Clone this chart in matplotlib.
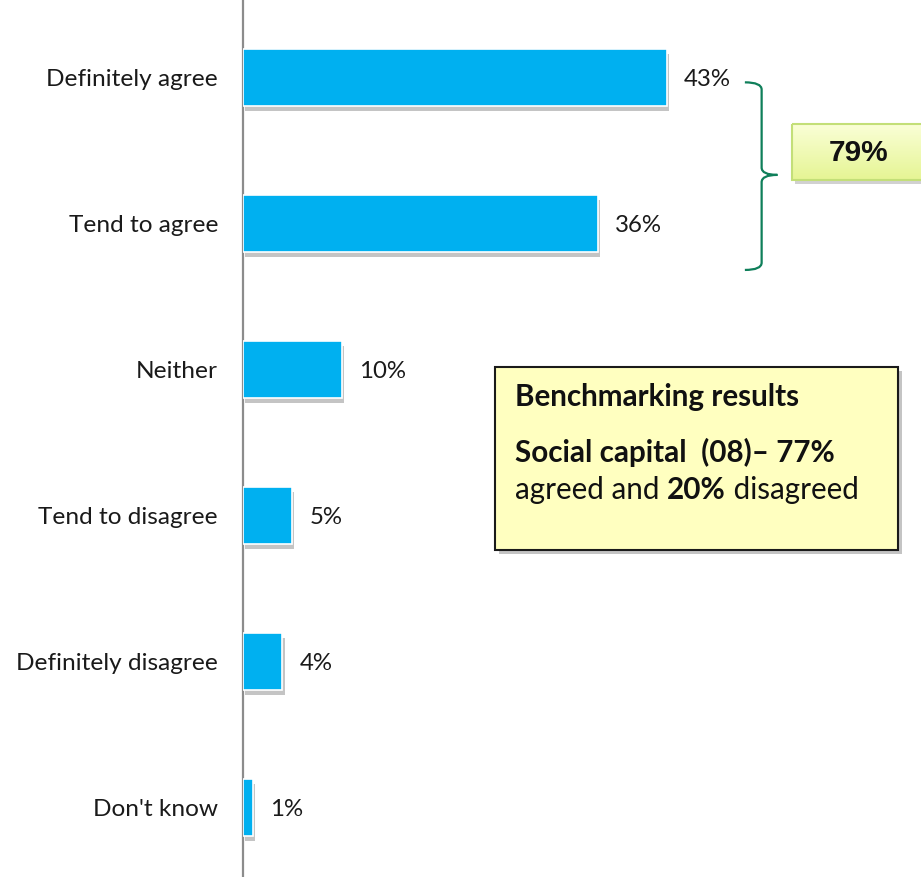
import matplotlib
matplotlib.use("Agg")
import matplotlib.pyplot as plt
import matplotlib.patheffects as pe
from matplotlib.path import Path
from matplotlib.patches import PathPatch, Rectangle
import numpy as np

categories = ["Definitely agree", "Tend to agree", "Neither", "Tend to disagree",
              "Definitely disagree", "Don't know"]
values = [43, 36, 10, 5, 4, 1]
value_labels = ["43%", "36%", "10%", "5%", "4%", "1%"]
total_agree_label = "79%"
bench_title = "Benchmarking results"
bench_line1 = "Social capital  (08)\u2013 77%"
bench_line2 = ["agreed and ", "20%", " disagreed"]

FONT = ["Lato", "DejaVu Sans"]
plt.rcParams["font.family"] = FONT

W, H = 921, 877
fig = plt.figure(figsize=(W / 100, H / 100), dpi=100)
ppu = 9.86  # pixels per percent
ax = fig.add_axes([243 / W, 0, 678 / W, 1])
ax.set_xlim(0, 678 / ppu)
ax.set_ylim(5.473, -0.534)

pos = np.arange(len(categories))
bars = ax.barh(pos, values, height=0.39, color="#00B0F0", edgecolor="white",
               linewidth=1.2, zorder=3)
for b in bars:
    b.set_path_effects([pe.SimplePatchShadow(offset=(1.5, -3), shadow_rgbFace="#8a8a8a",
                                             alpha=0.5), pe.Normal()])

for v, lab, p in zip(values, value_labels, pos):
    ax.text(v + 17 / ppu, p + 0.01, lab, va="center", ha="left", fontsize=17.3,
            color="#1a1a1a")

ax.set_yticks(pos, labels=categories)
ax.tick_params(axis="y", length=0, pad=18, labelsize=17.6, labelcolor="#1a1a1a")
ax.set_xticks([])
for s in ["top", "right", "bottom"]:
    ax.spines[s].set_visible(False)
ax.spines["left"].set_color("#8c8c8c")
ax.spines["left"].set_linewidth(1.6)

# curly brace spanning the two "agree" bars
x0, x1, xt = 50.9, 52.6, 54.2
yt, ym, yb = 0.03, 0.664, 1.315
s = 0.05
verts = [(x0, yt), (x1, yt), (x1, yt + s),
         (x1, ym - s), (x1, ym), (xt, ym),
         (x1, ym), (x1, ym + s),
         (x1, yb - s), (x1, yb), (x0, yb)]
codes = [Path.MOVETO, Path.CURVE3, Path.CURVE3,
         Path.LINETO, Path.CURVE3, Path.CURVE3,
         Path.CURVE3, Path.CURVE3,
         Path.LINETO, Path.CURVE3, Path.CURVE3]
ax.add_patch(PathPatch(Path(verts, codes), fill=False, edgecolor="#0f7f5a",
                       linewidth=1.6, clip_on=False, zorder=4))

# overlay for annotation boxes (pixel coordinates)
ov = fig.add_axes([0, 0, 1, 1], zorder=5)
ov.set_xlim(0, W)
ov.set_ylim(H, 0)
ov.axis("off")
ov.patch.set_alpha(0)

# 79% box with gradient
bx, by, bw, bh = 792, 124, 140, 56
ov.add_patch(Rectangle((bx + 3, by + 4), bw, bh, facecolor="#9a9a9a", alpha=0.45,
                       edgecolor="none", zorder=1))
grad = np.linspace(0, 1, 64).reshape(-1, 1)
c_top = np.array([0.98, 1.0, 0.84])
c_bot = np.array([0.90, 0.96, 0.58])
img = c_top[None, None, :] * (1 - grad[..., None]) + c_bot[None, None, :] * grad[..., None]
im = ov.imshow(img, extent=(bx, bx + bw, by + bh, by), aspect="auto", zorder=2)
rect = Rectangle((bx, by), bw, bh, facecolor="none", edgecolor="#c3df78",
                 linewidth=1.5, zorder=3)
ov.add_patch(rect)
im.set_clip_path(rect)
ov.set_xlim(0, W)
ov.set_ylim(H, 0)
ov.text(859, 153, total_agree_label, ha="center", va="center", fontsize=21.5,
        fontweight="bold", family=["Liberation Sans", "DejaVu Sans"], color="#111111", zorder=4)

# benchmarking box
kx, ky, kw, kh = 495, 367, 403, 183
ov.add_patch(Rectangle((kx + 4, ky + 4), kw, kh, facecolor="#8a8a8a", alpha=0.5,
                       edgecolor="none", zorder=1))
ov.add_patch(Rectangle((kx, ky), kw, kh, facecolor="#ffffc0", edgecolor="#1a1a1a",
                       linewidth=1.5, zorder=2))
FS = 21.3
ov.text(515, 397, bench_title, ha="left", va="center", fontsize=FS, fontweight="bold",
        color="#111111", zorder=4)
ov.text(515, 452, bench_line1, ha="left", va="center", fontsize=FS, fontweight="bold",
        color="#111111", zorder=4)
t = ov.text(515, 490, bench_line2[0], ha="left", va="center", fontsize=FS,
            color="#111111", zorder=4)
t2 = ov.annotate(bench_line2[1], xy=(1, 0), xycoords=t, ha="left", va="bottom",
                 fontsize=FS, fontweight="bold", color="#111111", zorder=4)
ov.annotate(bench_line2[2], xy=(1, 0), xycoords=t2, ha="left", va="bottom",
            fontsize=FS, color="#111111", zorder=4)

fig.savefig("out.png", dpi=100)
